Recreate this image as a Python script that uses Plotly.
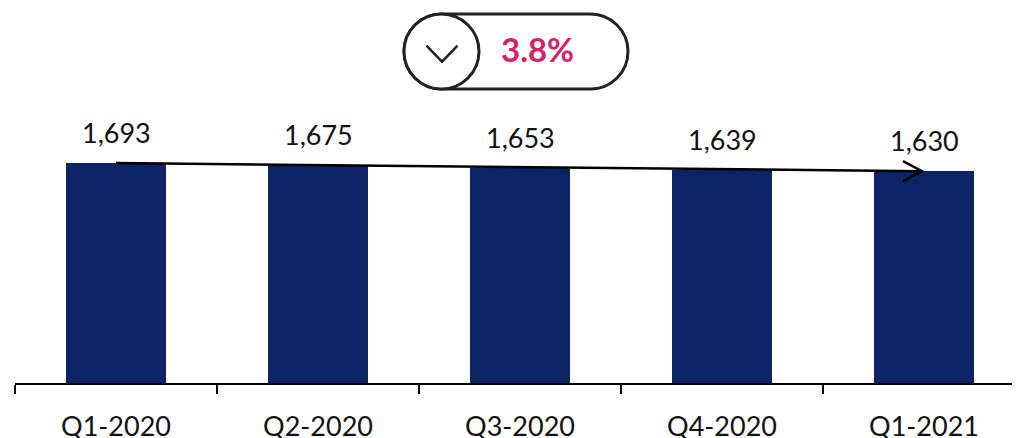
import plotly.graph_objects as go

# ---- data ----
quarters = ["Q1-2020", "Q2-2020", "Q3-2020", "Q4-2020", "Q1-2021"]
values = [1693, 1675, 1653, 1639, 1630]
change_text = "3.8%"

# ---- layout constants (pixels) ----
W, H = 1020, 438
OFF = 8  # page body margin shifts the figure by this much
ML, MR, MT, MB = 7, 3, 92, 63
PLOT_W = W - ML - MR
PLOT_H = H - MT - MB

NAVY = "#0C2366"
PINK = "#DA1F68"
OUTLINE = "#222222"
FONT = "Lato"


def px_x(px):
    # screen x -> paper x
    return (px - OFF - ML) / PLOT_W


def px_y(py):
    # screen y -> paper y
    return (H - MB - (py - OFF)) / PLOT_H


fig = go.Figure()
fig.add_trace(go.Bar(
    x=quarters, y=values, marker=dict(color=NAVY, line=dict(width=0)),
    width=0.495, hoverinfo="skip",
))

# value labels above bars
for q, v in zip(quarters, values):
    fig.add_annotation(
        x=q, y=v, text=f"{v:,}", showarrow=False, yshift=31,
        font=dict(family=FONT, size=27, color="#111111"),
        xanchor="center", yanchor="middle",
    )

shapes = []
# trend arrow from first bar top to last bar top
last = len(values) - 1
shapes.append(dict(type="line", xref="x", yref="y",
                   x0=0, y0=values[0], x1=last - 0.01, y1=values[-1],
                   line=dict(color="#000000", width=2.5)))
shapes.append(dict(type="path", xref="x", yref="y",
                   xsizemode="pixel", ysizemode="pixel",
                   xanchor=last - 0.01, yanchor=values[-1],
                   path="M -19,10 L 0,0 L -19,-10",
                   line=dict(color="#000000", width=2.5)))

# pill badge
cx, cy, hw, r = 516, 51.5, 112, 37.5
k = 0.5523 * r
a = hw - r
pill = (f"M {-a},{r} L {a},{r} "
        f"C {a + k},{r} {hw},{k} {hw},0 "
        f"C {hw},{-k} {a + k},{-r} {a},{-r} "
        f"L {-a},{-r} "
        f"C {-a - k},{-r} {-hw},{-k} {-hw},0 "
        f"C {-hw},{k} {-a - k},{r} {-a},{r} Z")
shapes.append(dict(type="path", xref="paper", yref="paper",
                   xsizemode="pixel", ysizemode="pixel",
                   xanchor=px_x(cx), yanchor=px_y(cy), path=pill,
                   fillcolor="white", line=dict(color=OUTLINE, width=3)))
ccx = cx - a
shapes.append(dict(type="circle", xref="paper", yref="paper",
                   xsizemode="pixel", ysizemode="pixel",
                   xanchor=px_x(ccx), yanchor=px_y(cy),
                   x0=-r, x1=r, y0=-r, y1=r,
                   fillcolor="white", line=dict(color=OUTLINE, width=3)))
shapes.append(dict(type="path", xref="paper", yref="paper",
                   xsizemode="pixel", ysizemode="pixel",
                   xanchor=px_x(ccx), yanchor=px_y(cy),
                   path="M -15,5.8 L 0.5,-10.2 L 16,5.8",
                   line=dict(color=OUTLINE, width=2.5)))

fig.add_annotation(
    xref="paper", yref="paper", x=px_x(537), y=px_y(49),
    text=f"<b>{change_text}</b>", showarrow=False,
    font=dict(family=FONT, size=33, color=PINK),
    xanchor="center", yanchor="middle",
)

fig.update_layout(
    width=W, height=H,
    margin=dict(l=ML, r=MR, t=MT, b=MB),
    paper_bgcolor="white", plot_bgcolor="white",
    showlegend=False, shapes=shapes,
    font=dict(family=FONT, color="#111111"),
    bargap=0,
)
fig.update_xaxes(
    range=[-0.5, 4.5], showgrid=False, zeroline=False,
    showline=True, linecolor="#000000", linewidth=1.5,
    ticks="outside", tickson="boundaries", ticklen=9, tickwidth=1.5,
    tickcolor="#000000", ticklabelstandoff=19,
    tickfont=dict(family=FONT, size=27, color="#111111"),
)
fig.update_yaxes(range=[0, 2178], visible=False, showgrid=False)

fig.write_html("out.html")
